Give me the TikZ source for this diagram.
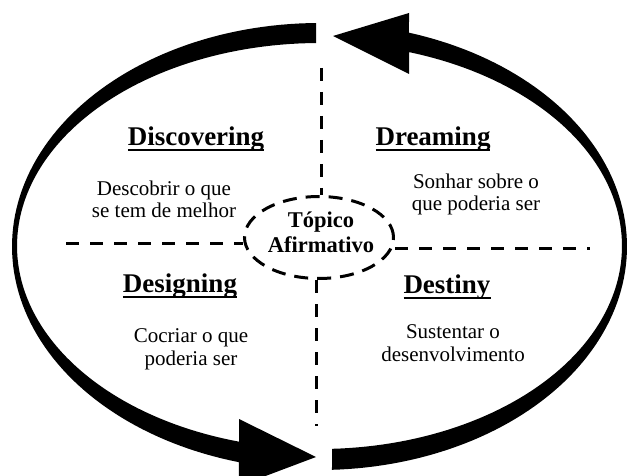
\documentclass[tikz,border=0pt]{standalone}
\usepackage{fontspec}
\setmainfont{Liberation Serif}
\usetikzlibrary{shapes.geometric}
% underline drawn at a fixed depth under the baseline
\newcommand{\ulword}[1]{\setbox0\hbox{#1}\rlap{\vrule height -3.5pt depth 5.5pt width \wd0}\box0}
\begin{document}
\begin{tikzpicture}[x=1pt,y=-1pt,
  heading/.style={font=\fontsize{27}{30}\selectfont\bfseries, inner sep=0pt, anchor=base},
  body/.style={font=\fontsize{21}{22.5}\selectfont, align=center, inner sep=0pt, anchor=base},
  guide/.style={line width=3pt, dash pattern=on 13pt off 11pt},
  coreshape/.style={ellipse, draw, line width=3pt, dash pattern=on 14pt off 9pt,
    minimum width=149pt, minimum height=82pt, inner sep=0pt},
  coretext/.style={font=\fontsize{22.5}{25}\selectfont\bfseries, align=center, inner sep=0pt, anchor=base},
  bigarrow/.style={fill=black}
]
\useasboundingbox (0,0) rectangle (627,476);
\clip (0,0) rectangle (627,476);

% left half of the cycle: from the top, down the left side, head at the bottom
\fill[bigarrow]
  plot[domain=90.652:254.82, samples=100] ({319.5+307.5*cos(\x)},{246.5-223.5*sin(\x)})
  -- (239,486) -- (316,457) -- (239,419)
  -- plot[domain=254.57:90.663, samples=100] ({319.5+302.5*cos(\x)},{246-203*sin(\x)})
  -- cycle;

% right half of the cycle: from the bottom, up the right side, head at the top
\fill[bigarrow]
  plot[domain=-87.67:73.08, samples=100] ({319.5+307.5*cos(\x)},{246.5-223.5*sin(\x)})
  -- (409,13) -- (333,36) -- (409,74)
  -- plot[domain=72.79:-87.63, samples=100] ({319.5+302.5*cos(\x)},{246-203*sin(\x)})
  -- cycle;

% central topic (base anchor sits on the last line)
\node[coreshape] (core) at (319,237.5) {};
\node[coretext] (topic) at (321,252) {Tópico\\Afirmativo};

% quadrant dividers
\coordinate (topend) at (321,68);
\coordinate (botend) at (316,426);
\coordinate (leftend) at (66,243);
\coordinate (rightend) at (590,248);
\draw[guide] (topend) -- (topend |- core.north);
\draw[guide] (botend |- core.south) -- (botend);
\draw[guide] (leftend) -- (leftend -| core.west);
\draw[guide] (core.east |- rightend) -- (rightend);

% quadrant headings
\node[heading] (hdisc) at (196,146) {\ulword{Discovering}};
\node[heading] (hdream) at (433,146) {\ulword{Dreaming}};
\node[heading] (hdesign) at (180,292) {\ulword{Designing}};
\node[heading] (hdest) at (447,293) {\ulword{Destiny}};

% quadrant descriptions (base anchor sits on the last line)
\node[body] (tdisc) at (164,218) {Descobrir o que\\se tem de melhor};
\node[body] (tdream) at (476,211) {Sonhar sobre o\\que poderia ser};
\node[body] (tdesign) at (191,365) {Cocriar o que\\poderia ser};
\node[body] (tdest) at (453,361) {Sustentar o\\desenvolvimento};
\end{tikzpicture}
\end{document}
